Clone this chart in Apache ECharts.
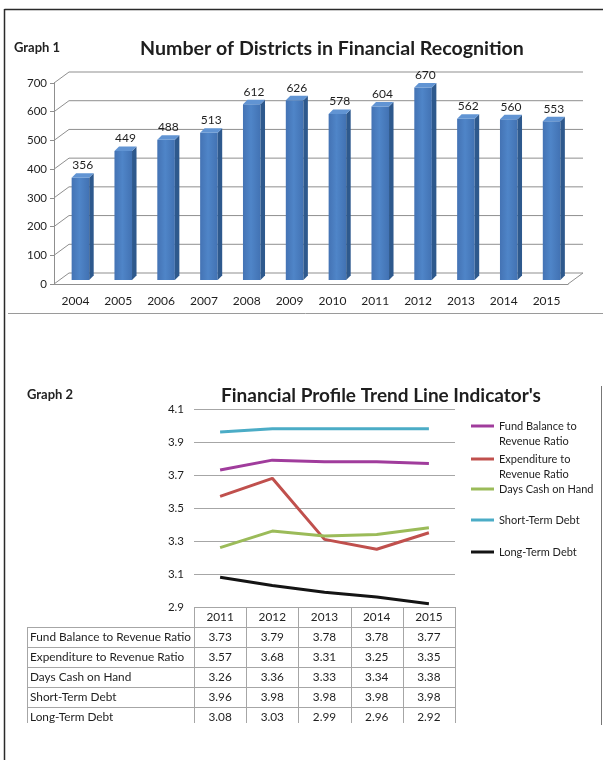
<!DOCTYPE html>
<html>
<head>
<meta charset="utf-8">
<script src="https://cdn.jsdelivr.net/npm/echarts@6/dist/echarts.min.js"></script>
<style>
html, body { margin: 0; padding: 0; background: #fff; }
#container { width: 603px; height: 760px; }
</style>
</head>
<body>
<div id="container"></div>
<script>
// Graph 1 data
var years1 = ['2004', '2005', '2006', '2007', '2008', '2009', '2010', '2011', '2012', '2013', '2014', '2015'];
var districts = [356, 449, 488, 513, 612, 626, 578, 604, 670, 562, 560, 553];
var ticks1 = [0, 100, 200, 300, 400, 500, 600, 700];

// Graph 2 data
var years2 = ['2011', '2012', '2013', '2014', '2015'];
var fundBalance = [3.73, 3.79, 3.78, 3.78, 3.77];
var expenditure = [3.57, 3.68, 3.31, 3.25, 3.35];
var daysCash = [3.26, 3.36, 3.33, 3.34, 3.38];
var shortTerm = [3.96, 3.98, 3.98, 3.98, 3.98];
var longTerm = [3.08, 3.03, 2.99, 2.96, 2.92];
var names2 = ['Fund Balance to Revenue Ratio', 'Expenditure to Revenue Ratio', 'Days Cash on Hand', 'Short-Term Debt', 'Long-Term Debt'];
var legendNames2 = ['Fund Balance to\nRevenue Ratio', 'Expenditure to\nRevenue Ratio', 'Days Cash on Hand', 'Short-Term Debt', 'Long-Term Debt'];
var colors2 = ['#a03c9c', '#c0504d', '#9bbb59', '#4bacc6', '#141414'];
var values2 = [fundBalance, expenditure, daysCash, shortTerm, longTerm];

var myChart = echarts.init(document.getElementById('container'));

var FONT = 'Lato, sans-serif';
var g1 = { left: 54, top: 83, width: 514, height: 201 };
var g2 = { left: 194, top: 409, width: 261, height: 198 };

function renderWall(params, api) {
    var v = api.value(1);
    var cs = params.coordSys;
    var y = api.coord([0, v])[1];
    var pts = [[cs.x, y], [cs.x + 15, y - 11], [cs.x + cs.width + 15, y - 11]];
    if (v === 0) pts.push([cs.x + cs.width, y]);
    return {
        type: 'polyline',
        shape: { points: pts },
        style: { stroke: '#8f8f8f', lineWidth: 1, fill: null }
    };
}

var frontFill = new echarts.graphic.LinearGradient(0, 0, 1, 0, [
    { offset: 0, color: '#4473b4' },
    { offset: 0.45, color: '#4f85c8' },
    { offset: 1, color: '#4272b3' }
]);

function renderBar(params, api) {
    var i = api.value(0), v = api.value(1);
    var c = api.coord([i, v]);
    var base = api.coord([i, 0]);
    var band = api.size([1, 0])[0];
    var w = band * 0.41, d = 4.5;
    var xl = c[0] - w / 2 + 5, xr = xl + w;
    var yt = c[1] - 4, yb = base[1] - 4;
    return {
        type: 'group',
        children: [
            { type: 'polygon', shape: { points: [[xl, yt], [xr, yt], [xr, yb], [xl, yb]] }, style: { fill: frontFill } },
            { type: 'polygon', shape: { points: [[xr, yt], [xr + d, yt - d], [xr + d, yb - d], [xr, yb]] }, style: { fill: '#2e598d' } },
            { type: 'polygon', shape: { points: [[xl, yt], [xr, yt], [xr + d, yt - d], [xl + d, yt - d]] }, style: { fill: '#6194d3' } },
            { type: 'text', x: xl + (w + d) / 2, y: yt - d - 2,
              style: { text: String(v), align: 'center', verticalAlign: 'bottom', font: '12px ' + FONT, fill: '#1e1e1e' } }
        ]
    };
}

// frame, headings and the data table under graph 2
var graphics = [
    { type: 'line', shape: { x1: 4.5, y1: 9.5, x2: 603, y2: 9.5 }, style: { stroke: '#2a2a2a', lineWidth: 1.5 } },
    { type: 'line', shape: { x1: 4.5, y1: 9, x2: 4.5, y2: 760 }, style: { stroke: '#2a2a2a', lineWidth: 1.5 } },
    { type: 'line', shape: { x1: 8, y1: 313.5, x2: 603, y2: 313.5 }, style: { stroke: '#9a9a9a', lineWidth: 1 } },
    { type: 'line', shape: { x1: 601.5, y1: 386, x2: 601.5, y2: 725 }, style: { stroke: '#777', lineWidth: 1 } },
    { type: 'text', x: 14, y: 48, style: { text: 'Graph 1', font: 'bold 13px ' + FONT, fill: '#222', verticalAlign: 'middle' } },
    { type: 'text', x: 27, y: 395, style: { text: 'Graph 2', font: 'bold 13px ' + FONT, fill: '#222', verticalAlign: 'middle' } },
    { type: 'text', x: 332, y: 49, style: { text: 'Number of Districts in Financial Recognition', font: 'bold 19.6px ' + FONT, fill: '#1e1e1e', align: 'center', verticalAlign: 'middle' } },
    { type: 'text', x: 381, y: 396, style: { text: "Financial Profile Trend Line Indicator's", font: 'bold 19px ' + FONT, fill: '#1e1e1e', align: 'center', verticalAlign: 'middle' } }
];

var tblTop = 607, rowH = 20, tblLeft = 27, tblBottom = 723;
var colW = g2.width / years2.length;
var lineColor = '#a6a6a6';
var cellFont = '11.8px ' + FONT;
graphics.push({ type: 'line', shape: { x1: g2.left, y1: tblTop + 0.5, x2: g2.left + g2.width, y2: tblTop + 0.5 }, style: { stroke: lineColor, lineWidth: 1 } });
for (var r = 1; r <= names2.length; r++) {
    var yy = tblTop + r * rowH + 0.5;
    graphics.push({ type: 'line', shape: { x1: tblLeft, y1: yy, x2: g2.left + g2.width, y2: yy }, style: { stroke: lineColor, lineWidth: 1 } });
}
graphics.push({ type: 'line', shape: { x1: tblLeft + 0.5, y1: tblTop + rowH, x2: tblLeft + 0.5, y2: tblBottom }, style: { stroke: lineColor, lineWidth: 1 } });
for (var c = 0; c <= years2.length; c++) {
    var xx = Math.round(g2.left + c * colW) + 0.5;
    graphics.push({ type: 'line', shape: { x1: xx, y1: tblTop, x2: xx, y2: tblBottom }, style: { stroke: lineColor, lineWidth: 1 } });
}
years2.forEach(function (y, j) {
    graphics.push({ type: 'text', x: g2.left + (j + 0.5) * colW, y: tblTop + rowH / 2,
        style: { text: y, font: cellFont, fill: '#1e1e1e', align: 'center', verticalAlign: 'middle' } });
});
names2.forEach(function (n, k) {
    var yc = tblTop + (k + 1.5) * rowH;
    graphics.push({ type: 'text', x: tblLeft + 3, y: yc,
        style: { text: n, font: cellFont, fill: '#1e1e1e', verticalAlign: 'middle' } });
    values2[k].forEach(function (v, j) {
        graphics.push({ type: 'text', x: g2.left + (j + 0.5) * colW, y: yc,
            style: { text: v.toFixed(2), font: cellFont, fill: '#1e1e1e', align: 'center', verticalAlign: 'middle' } });
    });
});

// one legend per series so each sits where the reference puts it;
// two-line names get a blank first line so the icon lines up with the first text line
var legendIconY = [425, 458, 489, 520, 552];
var legends = names2.map(function (n, k) {
    var twoLine = legendNames2[k].indexOf('\n') >= 0;
    return {
        data: [n],
        left: 471,
        top: twoLine ? legendIconY[k] - 21.5 : legendIconY[k] - 7.5,
        padding: 0,
        icon: 'rect',
        itemWidth: 23,
        itemHeight: 3,
        selectedMode: false,
        formatter: function (name) {
            var s = legendNames2[names2.indexOf(name)];
            return s.indexOf('\n') >= 0 ? ' \n' + s : s;
        },
        textStyle: { fontFamily: FONT, fontSize: 11, lineHeight: 15, color: '#1e1e1e' }
    };
});

option = {
    animation: false,
    backgroundColor: '#fff',
    grid: [
        { left: g1.left, top: g1.top, width: g1.width, height: g1.height },
        { left: g2.left, top: g2.top, width: g2.width, height: g2.height }
    ],
    xAxis: [{
        type: 'category',
        gridIndex: 0,
        data: years1,
        axisLine: { lineStyle: { color: '#8f8f8f' } },
        axisTick: { length: 5, lineStyle: { color: '#8f8f8f' } },
        axisLabel: { margin: 11, fontFamily: FONT, fontSize: 12, color: '#1e1e1e' }
    }, {
        type: 'category',
        gridIndex: 1,
        data: years2,
        axisLine: { show: false },
        axisTick: { show: false },
        axisLabel: { show: false }
    }],
    yAxis: [{
        type: 'value',
        gridIndex: 0,
        min: 0,
        max: 700,
        interval: 100,
        axisLine: { show: true, lineStyle: { color: '#8f8f8f' } },
        axisTick: { show: true, length: 4, lineStyle: { color: '#8f8f8f' } },
        splitLine: { show: false },
        axisLabel: { margin: 7, fontFamily: FONT, fontSize: 11.5, color: '#1e1e1e' }
    }, {
        type: 'value',
        gridIndex: 1,
        min: 2.9,
        max: 4.1,
        interval: 0.2,
        axisLine: { show: false },
        axisTick: { show: false },
        splitLine: { lineStyle: { color: '#a6a6a6' } },
        axisLabel: { margin: 10, fontFamily: FONT, fontSize: 11.5, color: '#1e1e1e',
            formatter: function (v) { return v.toFixed(1); } }
    }],
    legend: legends,
    graphic: graphics,
    series: [{
        name: 'wall',
        type: 'custom',
        xAxisIndex: 0,
        yAxisIndex: 0,
        silent: true,
        clip: false,
        z: 1,
        renderItem: renderWall,
        data: ticks1.map(function (t) { return [0, t]; })
    }, {
        name: 'districts',
        type: 'custom',
        xAxisIndex: 0,
        yAxisIndex: 0,
        clip: false,
        z: 3,
        renderItem: renderBar,
        data: districts.map(function (v, i) { return [i, v]; })
    }].concat(names2.map(function (n, k) {
        return {
            name: n,
            type: 'line',
            xAxisIndex: 1,
            yAxisIndex: 1,
            symbol: 'none',
            color: colors2[k],
            lineStyle: { width: 3, color: colors2[k] },
            data: values2[k]
        };
    }))
};

myChart.setOption(option);
</script>
</body>
</html>
